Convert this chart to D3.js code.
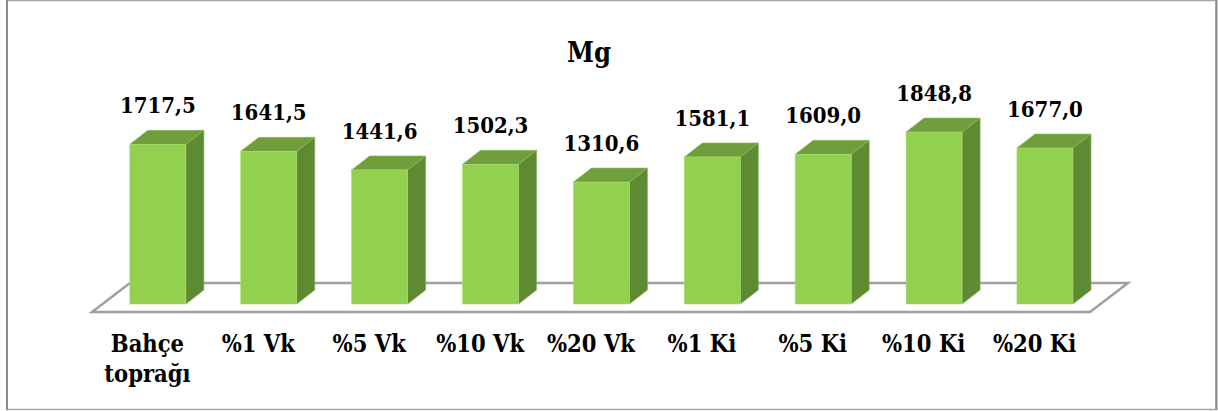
<!DOCTYPE html>
<html lang="tr">
<head>
<meta charset="UTF-8">
<title>Mg</title>
<script src="https://d3js.org/d3.v7.min.js"></script>
<style>
    html, body { margin: 0; padding: 0; background: #fff; }
    svg { display: block; }
    text { font-stretch: condensed; }
</style>
</head>
<body>
<div id="chart"></div>
<script>
    // data
    const categories = [["Bahçe", "toprağı"], ["%1 Vk"], ["%5 Vk"], ["%10 Vk"], ["%20 Vk"], ["%1 Ki"], ["%5 Ki"], ["%10 Ki"], ["%20 Ki"]];
    const values = [1717.5, 1641.5, 1441.6, 1502.3, 1310.6, 1581.1, 1609.0, 1848.8, 1677.0];
    const title = "Mg";

    const W = 1218, H = 411;
    const FONT = "'DejaVu Serif Condensed', 'DejaVu Serif', serif";
    const floor = { left: 92, right: 1090, front: 312, back: 283, dx: 38 };
    const depth = { dx: 18, dy: 14 }; // bar depth
    const shift = 10.4;              // bar front sits behind floor front edge
    const base = 304;                // bar front bottom

    const svg = d3.select("#chart").append("svg")
        .attr("width", W).attr("height", H);

    // outer frame
    svg.append("rect")
        .attr("x", 7).attr("y", 0.5)
        .attr("width", 1209).attr("height", 409)
        .attr("fill", "#fff")
        .attr("stroke", "#a6a6a6").attr("stroke-width", 1.5);
    svg.append("line").attr("x1", 7).attr("x2", 7).attr("y1", 0).attr("y2", 410)
        .attr("stroke", "#8c8c8c").attr("stroke-width", 2);
    svg.append("line").attr("x1", 1216.5).attr("x2", 1216.5).attr("y1", 0).attr("y2", 410)
        .attr("stroke", "#8c8c8c").attr("stroke-width", 2);

    const labels = categories.map(c => c.join(" "));

    const x = d3.scaleBand()
        .domain(labels)
        .range([floor.left, floor.right])
        .paddingInner(0.495)
        .paddingOuter(0.2475);

    const y = d3.scaleLinear()
        .domain([0, 2000])
        .range([base, 118]);

    // floor
    svg.append("path")
        .attr("d", `M${floor.left},${floor.front} L${floor.right},${floor.front} L${floor.right + floor.dx},${floor.back} L${floor.left + floor.dx},${floor.back} Z`)
        .attr("fill", "none")
        .attr("stroke", "#a0a0a0")
        .attr("stroke-width", 2.5);

    const data = labels.map((l, i) => ({ label: l, lines: categories[i], value: values[i] }));
    const fmt = v => d3.format(".1f")(v).replace(".", ",");

    const bars = svg.selectAll(".bar").data(data).enter().append("g").attr("class", "bar");

    bars.each(function(d) {
        const g = d3.select(this);
        const x0 = x(d.label) + shift, x1 = x0 + x.bandwidth();
        const yt = y(d.value), yb = y(0);
        // side
        g.append("path")
            .attr("d", `M${x1},${yb} L${x1 + depth.dx},${yb - depth.dy} L${x1 + depth.dx},${yt - depth.dy} L${x1},${yt} Z`)
            .attr("fill", "#5e8a31").attr("stroke", "#7faa55").attr("stroke-width", 0.6);
        // top
        g.append("path")
            .attr("d", `M${x0},${yt} L${x0 + depth.dx},${yt - depth.dy} L${x1 + depth.dx},${yt - depth.dy} L${x1},${yt} Z`)
            .attr("fill", "#6f9e3b").attr("stroke", "#8fbb60").attr("stroke-width", 0.6);
        // front
        g.append("rect")
            .attr("x", x0).attr("y", yt)
            .attr("width", x.bandwidth()).attr("height", yb - yt)
            .attr("fill", "#92d050").attr("stroke", "#a8dc70").attr("stroke-width", 0.6);
    });

    // value labels
    svg.selectAll(".val").data(data).enter().append("text")
        .attr("class", "val")
        .attr("x", d => x(d.label) + shift + x.bandwidth() / 2)
        .attr("y", d => y(d.value) - depth.dy - 17)
        .attr("text-anchor", "middle")
        .attr("font-family", FONT)
        .attr("font-weight", "bold")
        .attr("font-size", 22)
        .text(d => fmt(d.value));

    // category labels
    const cat = svg.selectAll(".cat").data(data).enter().append("text")
        .attr("class", "cat")
        .attr("text-anchor", "middle")
        .attr("font-family", FONT)
        .attr("font-weight", "bold")
        .attr("font-size", 23.5);
    cat.each(function(d) {
        const t = d3.select(this);
        d.lines.forEach((ln, i) => {
            t.append("tspan")
                .attr("x", x(d.label) + x.bandwidth() / 2)
                .attr("y", 352 + i * 30)
                .text(ln);
        });
    });

    // title
    svg.append("text")
        .attr("x", 589).attr("y", 62)
        .attr("text-anchor", "middle")
        .attr("font-family", FONT)
        .attr("font-weight", "bold")
        .attr("font-size", 27)
        .text(title);
</script>
</body>
</html>
